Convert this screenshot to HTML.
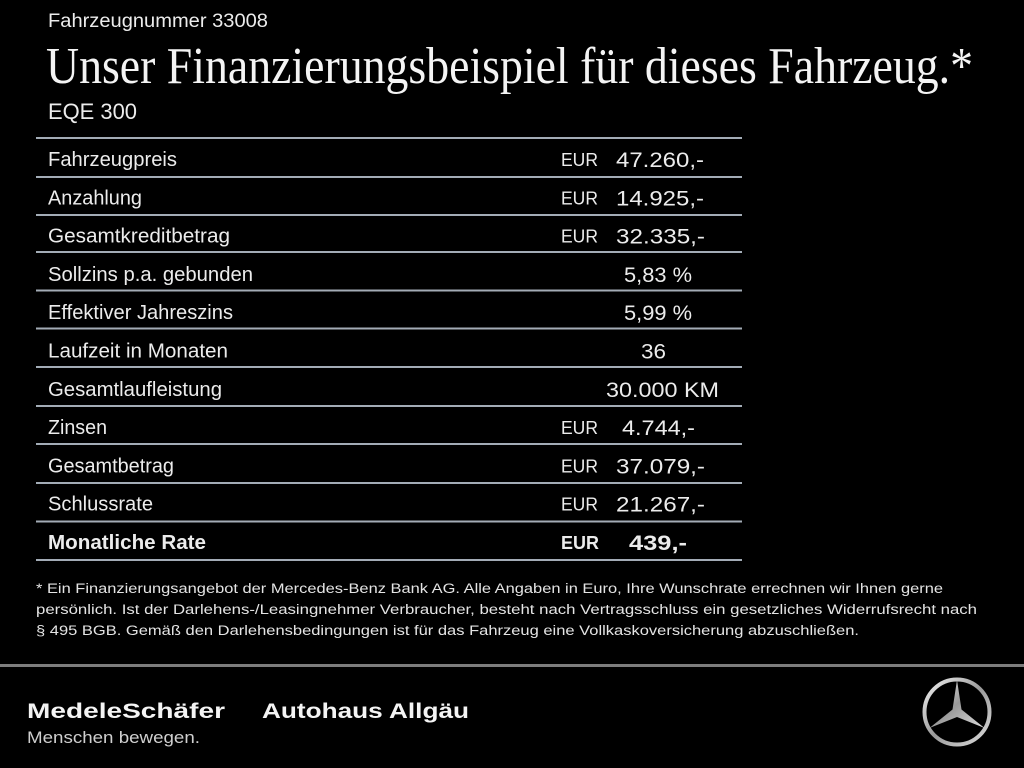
<!DOCTYPE html>
<html><head><meta charset="utf-8"><style>
html,body{margin:0;padding:0;background:#000;}
svg{display:block;}
</style></head><body>
<svg width="1024" height="768" viewBox="0 0 1024 768" xmlns="http://www.w3.org/2000/svg">
<defs>
<linearGradient id="silver" x1="0" y1="0" x2="1" y2="1">
<stop offset="0" stop-color="#f2f2f2"/><stop offset="0.5" stop-color="#9a9a9a"/><stop offset="1" stop-color="#dcdcdc"/>
</linearGradient>
</defs>
<rect width="1024" height="768" fill="#000"/>
<g font-family="Liberation Sans, sans-serif" fill="#ececec">
<text x="48" y="27" font-size="19" textLength="220" lengthAdjust="spacingAndGlyphs">Fahrzeugnummer 33008</text>
<text x="46" y="83" font-family="Liberation Serif, serif" font-size="52" fill="#f4f4f4" textLength="927" lengthAdjust="spacingAndGlyphs">Unser Finanzierungsbeispiel für dieses Fahrzeug.*</text>
<text x="48" y="119" font-size="22" textLength="89" lengthAdjust="spacingAndGlyphs">EQE 300</text>
</g>
<g stroke="#a3acb6" stroke-width="2">
<line x1="36" y1="138" x2="742" y2="138"/>
<line x1="36" y1="177" x2="742" y2="177"/>
<line x1="36" y1="215" x2="742" y2="215"/>
<line x1="36" y1="252" x2="742" y2="252"/>
<line x1="36" y1="290.5" x2="742" y2="290.5"/>
<line x1="36" y1="328.5" x2="742" y2="328.5"/>
<line x1="36" y1="367" x2="742" y2="367"/>
<line x1="36" y1="406" x2="742" y2="406"/>
<line x1="36" y1="444" x2="742" y2="444"/>
<line x1="36" y1="483" x2="742" y2="483"/>
<line x1="36" y1="521.5" x2="742" y2="521.5"/>
<line x1="36" y1="560" x2="742" y2="560"/>
</g>
<g font-family="Liberation Sans, sans-serif" font-size="20" fill="#ececec">
<text x="48" y="166" textLength="129" lengthAdjust="spacingAndGlyphs">Fahrzeugpreis</text>
<text x="48" y="204.3" textLength="94" lengthAdjust="spacingAndGlyphs">Anzahlung</text>
<text x="48" y="242.6" textLength="182" lengthAdjust="spacingAndGlyphs">Gesamtkreditbetrag</text>
<text x="48" y="280.9" textLength="205" lengthAdjust="spacingAndGlyphs">Sollzins p.a. gebunden</text>
<text x="48" y="319.2" textLength="185" lengthAdjust="spacingAndGlyphs">Effektiver Jahreszins</text>
<text x="48" y="357.5" textLength="180" lengthAdjust="spacingAndGlyphs">Laufzeit in Monaten</text>
<text x="48" y="395.8" textLength="174" lengthAdjust="spacingAndGlyphs">Gesamtlaufleistung</text>
<text x="48" y="434.1" textLength="59" lengthAdjust="spacingAndGlyphs">Zinsen</text>
<text x="48" y="472.4" textLength="126" lengthAdjust="spacingAndGlyphs">Gesamtbetrag</text>
<text x="48" y="510.7" textLength="105" lengthAdjust="spacingAndGlyphs">Schlussrate</text>
<text x="48" y="549" font-weight="bold" textLength="158" lengthAdjust="spacingAndGlyphs">Monatliche Rate</text>
</g>
<g font-family="Liberation Sans, sans-serif" font-size="18" fill="#ececec">
<text x="561" y="166" textLength="37" lengthAdjust="spacingAndGlyphs">EUR</text>
<text x="561" y="204.3" textLength="37" lengthAdjust="spacingAndGlyphs">EUR</text>
<text x="561" y="242.6" textLength="37" lengthAdjust="spacingAndGlyphs">EUR</text>
<text x="561" y="434.1" textLength="37" lengthAdjust="spacingAndGlyphs">EUR</text>
<text x="561" y="472.4" textLength="37" lengthAdjust="spacingAndGlyphs">EUR</text>
<text x="561" y="510.7" textLength="37" lengthAdjust="spacingAndGlyphs">EUR</text>
<text x="561" y="549" font-weight="bold" textLength="38" lengthAdjust="spacingAndGlyphs">EUR</text>
</g>
<g font-family="Liberation Sans, sans-serif" font-size="21" fill="#ececec">
<text x="616" y="167" textLength="88" lengthAdjust="spacingAndGlyphs">47.260,-</text>
<text x="616" y="205.3" textLength="88" lengthAdjust="spacingAndGlyphs">14.925,-</text>
<text x="616" y="243.6" textLength="89" lengthAdjust="spacingAndGlyphs">32.335,-</text>
<text x="624" y="281.9" textLength="68" lengthAdjust="spacingAndGlyphs">5,83 %</text>
<text x="624" y="320.2" textLength="68" lengthAdjust="spacingAndGlyphs">5,99 %</text>
<text x="641" y="358.5" textLength="25" lengthAdjust="spacingAndGlyphs">36</text>
<text x="606" y="396.8" textLength="113" lengthAdjust="spacingAndGlyphs">30.000 KM</text>
<text x="622" y="435.1" textLength="73" lengthAdjust="spacingAndGlyphs">4.744,-</text>
<text x="616" y="473.4" textLength="89" lengthAdjust="spacingAndGlyphs">37.079,-</text>
<text x="616" y="511.7" textLength="89" lengthAdjust="spacingAndGlyphs">21.267,-</text>
<text x="629" y="550" font-weight="bold" textLength="58" lengthAdjust="spacingAndGlyphs">439,-</text>
</g>
<g font-family="Liberation Sans, sans-serif" font-size="13.5" fill="#e4e4e4">
<text x="36" y="593" textLength="907" lengthAdjust="spacingAndGlyphs">* Ein Finanzierungsangebot der Mercedes-Benz Bank AG. Alle Angaben in Euro, Ihre Wunschrate errechnen wir Ihnen gerne</text>
<text x="36" y="614" textLength="941" lengthAdjust="spacingAndGlyphs">persönlich. Ist der Darlehens-/Leasingnehmer Verbraucher, besteht nach Vertragsschluss ein gesetzliches Widerrufsrecht nach</text>
<text x="36" y="635" textLength="823" lengthAdjust="spacingAndGlyphs">§ 495 BGB. Gemäß den Darlehensbedingungen ist für das Fahrzeug eine Vollkaskoversicherung abzuschließen.</text>
</g>
<rect x="0" y="664" width="1024" height="3" fill="#7d7d7d"/>
<g font-family="Liberation Sans, sans-serif" fill="#f4f4f4">
<text x="27" y="718" font-size="21" font-weight="bold" textLength="198" lengthAdjust="spacingAndGlyphs">MedeleSchäfer</text>
<text x="262" y="718" font-size="21" font-weight="bold" textLength="207" lengthAdjust="spacingAndGlyphs">Autohaus Allgäu</text>
<text x="27" y="743" font-size="17" fill="#cfcfcf" textLength="173" lengthAdjust="spacingAndGlyphs">Menschen bewegen.</text>
</g>
<circle cx="957" cy="712" r="32.5" fill="none" stroke="url(#silver)" stroke-width="4"/>
<polygon points="957,680 961.5,709.5 984.5,728 957,717 929.5,728 952.5,709.5" fill="url(#silver)"/>
</svg>
</body></html>
